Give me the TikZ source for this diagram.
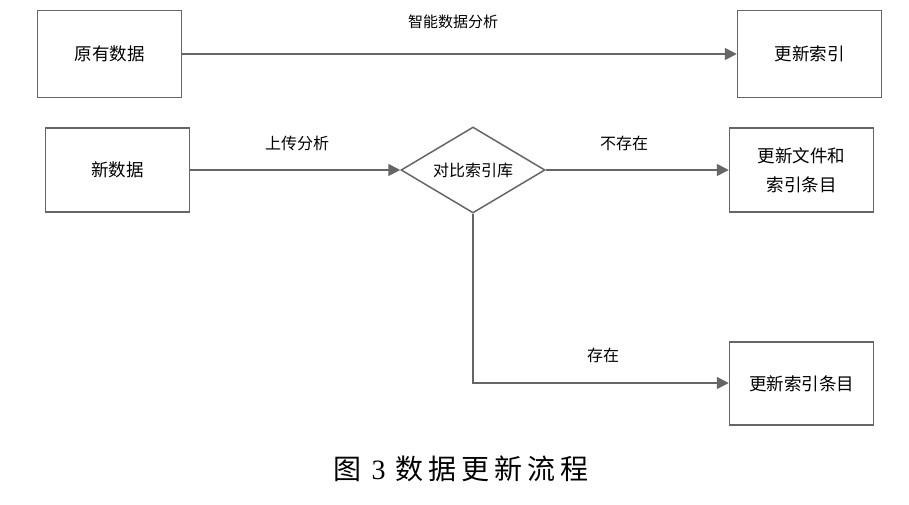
\documentclass[tikz,border=0pt]{standalone}
\usepackage{fontspec}
\newfontfamily\cjk{Noto Sans CJK SC}
\usetikzlibrary{arrows.meta,shapes.geometric}
\definecolor{lc}{HTML}{666666}
\begin{document}
\begin{tikzpicture}[x=1pt,y=-1pt,
  box/.style={draw=lc,line width=1.5pt,minimum width=144pt,minimum height=87pt,inner sep=0pt,font=\cjk\fontsize{17.5}{29}\selectfont,align=center},
  dec/.style={draw=lc,line width=1.5pt,diamond,minimum width=144pt,minimum height=86pt,inner sep=0pt,font=\cjk\fontsize{16}{18}\selectfont},
  conn/.style={draw=lc,line width=1.7pt,-{Triangle[length=12pt,width=12pt]}},
  lbl/.style={font=\cjk\fontsize{16}{18}\selectfont}]
\useasboundingbox (0,0) rectangle (909,504);
\node[box] (a) at (109.5,54) {原有数据};
\node[box] (b) at (809.5,54) {更新索引};
\node[box,minimum height=84pt] (c) at (117.5,170) {新数据};
\node[dec] (d) at (473,170) {\makebox[0pt]{对比索引库}};
\node[box,minimum height=84pt] (e) at (801.5,170) {更新文件和\\索引条目};
\node[box,minimum height=83pt] (f) at (801.5,383.5) {更新索引条目};
\coordinate (k) at (473,383);
\draw[conn] (a) -- (b);
\draw[conn] (c) -- (d);
\draw[conn] (d) -- (e);
\draw[conn] (d.south) -- (k) -- (f.west |- k);
\node[lbl,font=\cjk\fontsize{15}{18}\selectfont] (l1) at (453,22) {智能数据分析};
\node[lbl] (l2) at (297,143) {上传分析};
\node[lbl] (l3) at (624,143) {不存在};
\node[lbl] (l4) at (603,355) {存在};
\node[font=\cjk\fontsize{28}{32}\selectfont] (cap) at (461,469) {图\hspace{10pt}{\fontspec{Liberation Serif}3}\hspace{10pt}数\hspace{5pt}据\hspace{5pt}更\hspace{5pt}新\hspace{5pt}流\hspace{5pt}程};
\end{tikzpicture}
\end{document}
